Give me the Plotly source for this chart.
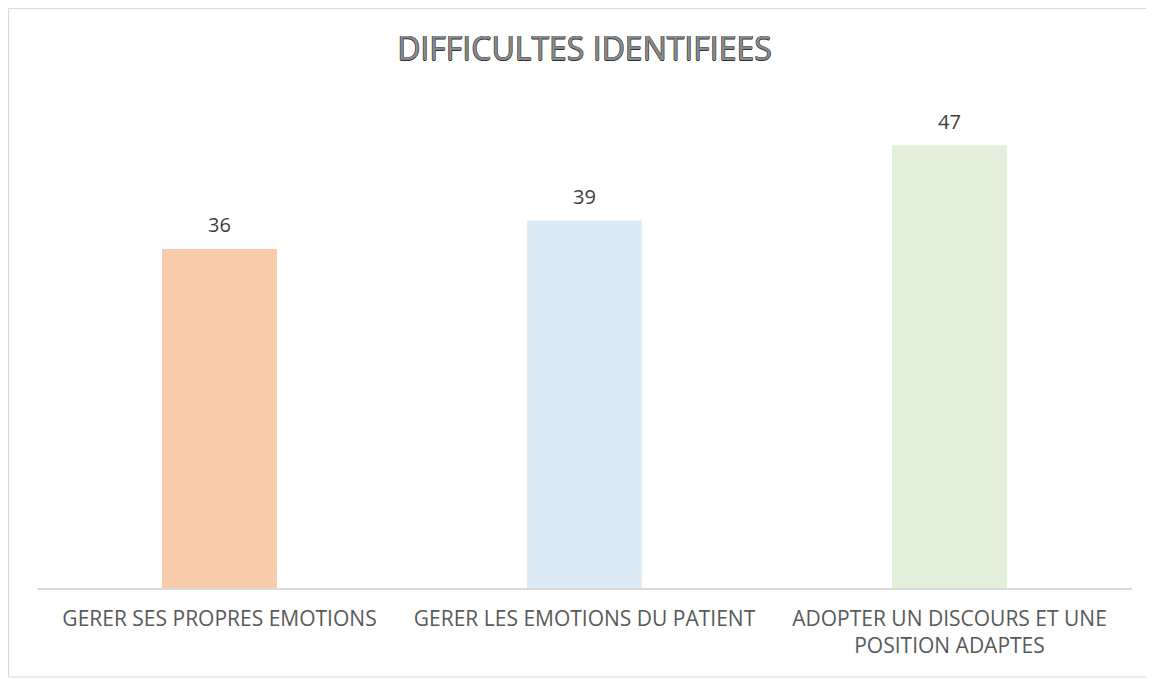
import plotly.graph_objects as go

categories = ["GERER SES PROPRES EMOTIONS", "GERER LES EMOTIONS DU PATIENT", "ADOPTER UN DISCOURS ET UNE<br>POSITION ADAPTES"]
values = [36, 39, 47]
colors = ["#F8CBAD", "#DDEBF7", "#E2EFDA"]
title_text = "DIFFICULTES IDENTIFIEES"

FONT = "Open Sans"
# figure sized so that it fits in the window together with the 8px page margin
FW, FH = 1146, 671

fig = go.Figure()
fig.add_trace(go.Bar(x=categories, y=values, marker=dict(color=colors, line=dict(width=0)),
                     hoverinfo="x+y"))

for c, v in zip(categories, values):
    fig.add_annotation(x=c, y=v, text=str(v), showarrow=False, yshift=24,
                       font=dict(family=FONT, size=20, color="#404040"))

# plot area in figure pixels
L, T, B, R = 29, 109, 580, 1124
W, H = R - L, B - T
def px_x(p):
    return (p - L) / W
def px_y(p):
    return (B - p) / H
border = dict(color="#D9D9D9", width=1.2)
xl, xr, yt, yb = px_x(0.5), px_x(FW), px_y(0.5), px_y(669)
fig.add_shape(type="line", xref="paper", yref="paper", x0=xl, x1=xl, y0=yb, y1=yt, line=border, layer="below")
fig.add_shape(type="line", xref="paper", yref="paper", x0=xl, x1=xr, y0=yt, y1=yt, line=border, layer="below")
fig.add_shape(type="line", xref="paper", yref="paper", x0=xl, x1=xr, y0=yb, y1=yb, line=border, layer="below")

fig.update_layout(
    width=FW, height=FH,
    margin=dict(l=L, r=FW - R, t=T, b=FH - B),
    paper_bgcolor="white", plot_bgcolor="white",
    bargap=0.685,
    showlegend=False,
    title=dict(text=title_text, x=0.5, xref="paper", xanchor="center",
               y=1 - 41 / FH, yref="container", yanchor="middle",
               font=dict(family=FONT, size=32, color="#8A8A8A",
                         shadow="0.5px 0 0 #303030, -0.5px 0 0 #303030, 0 0.5px 0 #303030, 0 -0.5px 0 #303030")),
    xaxis=dict(showline=True, linecolor="#D9D9D9", linewidth=1.5, ticks="",
               tickfont=dict(family=FONT, size=21, color="#595959"),
               ticklabelstandoff=11, fixedrange=True),
    yaxis=dict(range=[0, 50], visible=False, showgrid=False, zeroline=False, fixedrange=True),
)

fig.write_html("out.html")
